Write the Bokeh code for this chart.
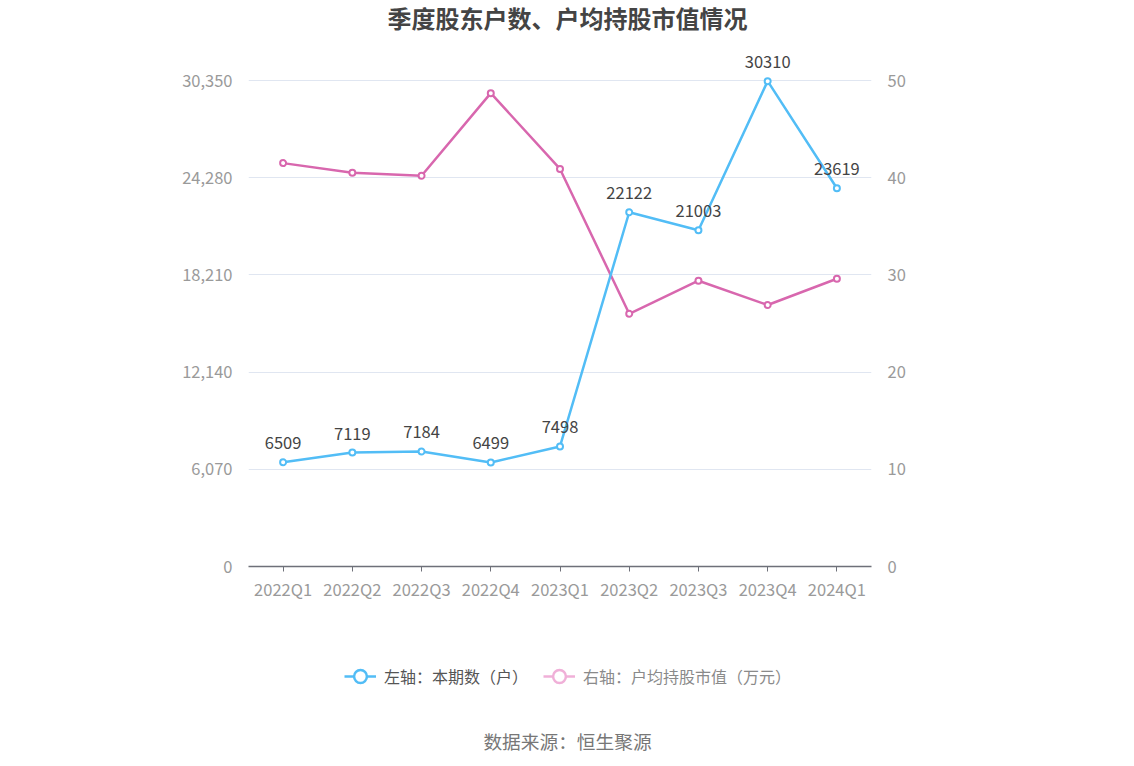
from bokeh.plotting import figure
from bokeh.models import (Range1d, LinearAxis, FactorRange, FixedTicker, Legend, LegendItem,
                          ColumnDataSource, LabelSet, Label, CustomJSTickFormatter)
from bokeh.layouts import column
from bokeh.core.properties import value
from bokeh.embed import file_html
from bokeh.resources import INLINE

categories = ["2022Q1", "2022Q2", "2022Q3", "2022Q4", "2023Q1", "2023Q2", "2023Q3", "2023Q4", "2024Q1"]
holders = [6509, 7119, 7184, 6499, 7498, 22122, 21003, 30310, 23619]
avg_value = [41.5, 40.5, 40.2, 48.7, 40.9, 26.0, 29.4, 26.9, 29.6]
left_ticks = [0, 6070, 12140, 18210, 24280, 30350]
right_ticks = [0, 10, 20, 30, 40, 50]

FONT = "Noto Sans CJK SC"
BLUE = "#52bdf6"
PINK = "#d867ae"
W = 1134
LEFT, RIGHT = 248, 871

TOP_H = 40          # title strip
MAIN_BOTTOM = 620   # canvas y where the main figure ends
FRAME_BOTTOM = 566  # canvas y of the x axis
TICK_TOP = 80       # canvas y of the top tick
ext = (FRAME_BOTTOM - TOP_H) / (FRAME_BOTTOM - TICK_TOP)


def strip(height):
    f = figure(width=W, height=height, x_range=Range1d(LEFT, RIGHT), y_range=Range1d(0, height),
               output_backend="svg", toolbar_location=None, min_border_left=LEFT,
               min_border_right=W - RIGHT, min_border_top=0, min_border_bottom=0)
    f.axis.visible = False
    f.grid.grid_line_color = None
    f.outline_line_color = None
    f.border_fill_color = "white"
    return f


# title strip
p0 = strip(TOP_H)
p0.add_layout(Label(x=567, y=TOP_H - 17, text="季度股东户数、户均持股市值情况", text_align="center",
                    text_baseline="middle", text_font=FONT, text_font_size="24px",
                    text_font_style="bold", text_color="#444444"))

# main chart
p = figure(width=W, height=MAIN_BOTTOM - TOP_H, x_range=FactorRange(*categories),
           y_range=Range1d(0, 30350 * ext), output_backend="svg", toolbar_location=None,
           min_border_left=LEFT, min_border_right=W - RIGHT, min_border_top=0,
           min_border_bottom=MAIN_BOTTOM - FRAME_BOTTOM)
p.extra_y_ranges = {"right": Range1d(0, 50 * ext)}
p.outline_line_color = None
p.background_fill_color = "white"
p.border_fill_color = "white"

TICK_FS = "16.5px"
p.yaxis.ticker = FixedTicker(ticks=left_ticks)
p.yaxis.formatter = CustomJSTickFormatter(code="return tick.toLocaleString('en-US');")
ax = p.yaxis[0]
ax.axis_line_color = None
ax.major_tick_line_color = None
ax.minor_tick_line_color = None
ax.major_label_text_color = "#9a9a9a"
ax.major_label_text_font = FONT
ax.major_label_text_font_size = TICK_FS
ax.major_label_standoff = 10

ry = LinearAxis(y_range_name="right", ticker=FixedTicker(ticks=right_ticks))
ry.axis_line_color = None
ry.major_tick_line_color = None
ry.minor_tick_line_color = None
ry.major_label_text_color = "#9a9a9a"
ry.major_label_text_font = FONT
ry.major_label_text_font_size = TICK_FS
ry.major_label_standoff = 10
p.add_layout(ry, "right")

xa = p.xaxis[0]
xa.axis_line_color = "#6e7079"
xa.axis_line_width = 1.5
xa.major_tick_line_color = "#6e7079"
xa.major_tick_in = 0
xa.major_tick_out = 5
xa.minor_tick_line_color = None
xa.major_label_text_color = "#9a9a9a"
xa.major_label_text_font = FONT
xa.major_label_text_font_size = TICK_FS
xa.major_label_standoff = 5

p.xgrid.grid_line_color = None
p.ygrid.grid_line_color = "#e0e6f1"
p.ygrid.grid_line_width = 1

src = ColumnDataSource(dict(x=categories, h=holders, v=avg_value, lab=[str(h) for h in holders]))

p.line("x", "v", source=src, y_range_name="right", line_color=PINK, line_width=2.5)
p.scatter("x", "v", source=src, y_range_name="right", size=6, fill_color="white",
          line_color=PINK, line_width=2)
p.line("x", "h", source=src, line_color=BLUE, line_width=2.5)
p.scatter("x", "h", source=src, size=6, fill_color="white", line_color=BLUE, line_width=2)

labels = LabelSet(x="x", y="h", text="lab", source=src, y_offset=19, text_align="center",
                  text_baseline="middle", text_font=value(FONT), text_font_size=value("16.5px"),
                  text_color=value("#444444"))
p.add_layout(labels)

# lower strip: legend and source note
H2 = 766 - MAIN_BOTTOM
p2 = strip(H2)

# legend proxies, placed outside the strip's visible ranges
proxy = ColumnDataSource(dict(x=[-1000], y=[-1000]))
l1 = p2.line("x", "y", source=proxy, line_color=BLUE, line_width=2.5)
s1 = p2.scatter("x", "y", source=proxy, size=14, fill_color="white", line_color=BLUE, line_width=2.5)
l2 = p2.line("x", "y", source=proxy, line_color="#f0b0d8", line_width=2.5)
s2 = p2.scatter("x", "y", source=proxy, size=14, fill_color="white", line_color="#f0b0d8", line_width=2.5)

GH = 34


def mk_legend(label, rends, color, x_left):
    lg = Legend(items=[LegendItem(label=label, renderers=rends)], location=(x_left - LEFT, legend_y),
                orientation="horizontal", glyph_width=32, glyph_height=GH, label_standoff=8,
                padding=0, margin=0, border_line_color=None, background_fill_alpha=0,
                label_text_font=FONT, label_text_font_size="16px", label_text_color=color,
                label_height=18)
    p2.add_layout(lg, "center")


legend_y = H2 - (676 - MAIN_BOTTOM) - GH / 2
mk_legend("左轴：本期数（户）", [l1, s1], "#555555", 344)
mk_legend("右轴：户均持股市值（万元）", [l2, s2], "#8a8a8a", 543)

p2.add_layout(Label(x=567, y=H2 - (740 - MAIN_BOTTOM), text="数据来源：恒生聚源", text_align="center",
                    text_baseline="middle", text_font=FONT, text_font_size="18.7px",
                    text_color="#777777"))

layout = column(p0, p, p2, spacing=0)
open("out.html", "w").write(file_html(layout, INLINE))
